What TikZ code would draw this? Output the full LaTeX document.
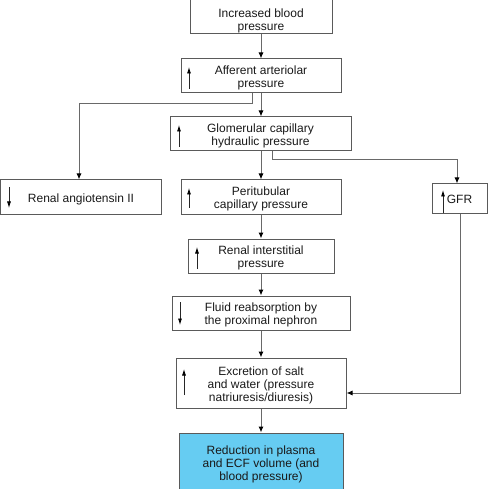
\documentclass[tikz,border=0pt]{standalone}
\usepackage{fontspec}
\setmainfont{Liberation Sans}
\usetikzlibrary{arrows.meta}
\definecolor{boxline}{RGB}{90,90,90}
\definecolor{connline}{RGB}{105,105,105}
\definecolor{bluefill}{RGB}{102,204,242}
\newcommand\boxtext[2][2.5pt]{\raisebox{-#1}[\height][\depth]{\begin{tabular}{@{}c@{}}#2\end{tabular}}}
\begin{document}
\begin{tikzpicture}[x=1pt,y=-1pt,
  box/.style={draw=boxline,line width=1pt,inner sep=0pt,align=center,
    font=\fontsize{12}{13}\selectfont,text=black!90},
  conn/.style={draw=connline,line width=1pt,-{Latex[length=6pt,width=5pt,color=black]}},
  ind/.style={draw=black!85,line width=0.8pt,-{Latex[length=6.5pt,width=4pt,color=black]}}]
\useasboundingbox (0,0) rectangle (495,489);
% boxes
\node[box,minimum width=142pt,minimum height=35pt] (b1) at (261,16.5) {\boxtext[4.5pt]{Increased blood\\pressure}};
\node[box,minimum width=160pt,minimum height=34pt] (b2) at (261,76) {\boxtext{Afferent arteriolar\\pressure}};
\node[box,minimum width=181pt,minimum height=34pt] (b3) at (260.5,134) {\boxtext{Glomerular capillary\\hydraulic pressure}};
\node[box,minimum width=161pt,minimum height=34pt] (b4) at (81,197) {\boxtext{Renal angiotensin II}};
\node[box,minimum width=160pt,minimum height=34pt] (b5) at (261,197) {\boxtext{Peritubular\\capillary pressure}};
\node[box,minimum width=55pt,minimum height=29pt] (b6) at (459.5,198.5) {\boxtext{GFR}};
\node[box,minimum width=146pt,minimum height=34pt] (b7) at (261,256) {\boxtext{Renal interstitial\\pressure}};
\node[box,minimum width=178pt,minimum height=34pt] (b8) at (261,313) {\boxtext{Fluid reabsorption by\\the proximal nephron}};
\node[box,minimum width=170pt,minimum height=50pt] (b9) at (261,383) {\boxtext{Excretion of salt\\and water (pressure\\natriuresis/diuresis)}};
\node[box,fill=bluefill,minimum width=164pt,minimum height=59pt] (b10) at (261,462.5) {\boxtext{Reduction in plasma\\and ECF volume (and\\blood pressure)}};
% connectors
\draw[conn] (b1) -- (b2);
\draw[conn] ([xshift=-9pt]b2.south) -- ++(0pt,-10pt) -| ([xshift=-2pt]b4.north);
\draw[conn] (b2.south) -- (b2.south |- b3.north);
\draw[conn] ([xshift=11.5pt]b3.south) -- ++(0pt,-8pt) -| ([xshift=-2.5pt]b6.north);
\draw[conn] (b5.north |- b3.south) -- (b5.north);
\draw[conn] (b5) -- (b7);
\draw[conn] (b7) -- (b8);
\draw[conn] (b8) -- (b9);
\draw[conn] (b9) -- (b10);
\draw[conn] ([xshift=0.5pt]b6.south) |- ([yshift=-10pt]b9.east);
% direction indicators inside boxes
\draw[ind] (189,89) -- (189,67);
\draw[ind] (179,147) -- (179,125);
\draw[ind] (9,187) -- (9,208);
\draw[ind] (189,208) -- (189,188);
\draw[ind] (443,213) -- (443,190);
\draw[ind] (197,269) -- (197,247);
\draw[ind] (180,302) -- (180,325);
\draw[ind] (184,395) -- (184,369);
\end{tikzpicture}
\end{document}
